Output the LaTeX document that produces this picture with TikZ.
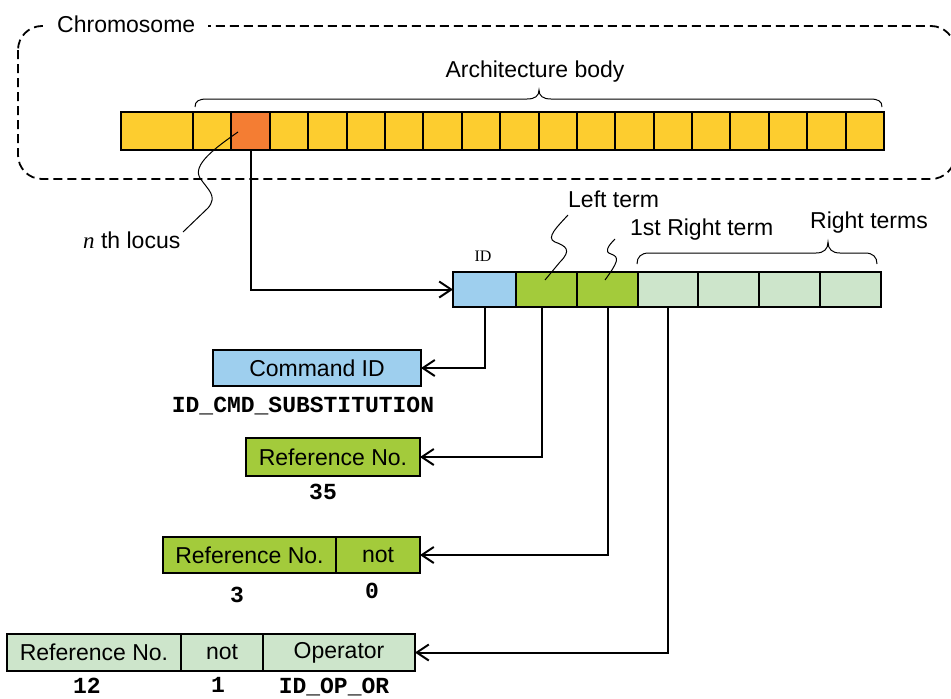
\documentclass[tikz,border=0pt]{standalone}
\usepackage{fontspec}
\setmainfont{Liberation Sans}
\newfontfamily\monob{Liberation Mono}
\newfontfamily\timesf{Liberation Serif}
\usetikzlibrary{arrows.meta}
\definecolor{cyel}{HTML}{FDCD2F}
\definecolor{corange}{HTML}{F47D33}
\definecolor{cblue}{HTML}{9ECFEE}
\definecolor{cgreen}{HTML}{A3CB3B}
\definecolor{clight}{HTML}{CDE5CB}
\begin{document}
\begin{tikzpicture}[x=1pt,y=-1pt,
  cell/.style={draw, line width=2pt, inner sep=0pt, outer sep=0pt, anchor=north west},
  box/.style={draw, line width=1.8pt, inner sep=0pt, outer sep=0pt, anchor=north west, font=\fontsize{23}{27}\selectfont},
  lbl/.style={inner sep=0pt, font=\fontsize{23}{27}\selectfont},
  code/.style={inner sep=0pt, anchor=base, font=\monob\bfseries\fontsize{23}{27}\selectfont},
  conn/.style={line width=2pt, -{Straight Barb[length=12pt,width=16pt]}},
  thinline/.style={line width=1pt},
]
\useasboundingbox (0,0) rectangle (951,699);
\clip (0,0) rectangle (951,699);

% chromosome frame
\draw[line width=1.8pt, dash pattern=on 9pt off 5pt, rounded corners=24pt] (18,26) rectangle (955,179);
\node[lbl, fill=white, inner xsep=13pt, inner ysep=3pt, anchor=base west] (chrom) at (44,32) {Chromosome};

% chromosome cells
\node[cell, fill=cyel, minimum width=72pt, minimum height=38pt] (c0) at (121,112) {};
\foreach \i in {1,...,18} {
  \pgfmathsetmacro\xx{193+(\i-1)*38.39}
  \node[cell, fill=cyel, minimum width=38.39pt, minimum height=38pt] (c\i) at (\xx,112) {};
}
\node[cell, fill=corange, minimum width=38.39pt, minimum height=38pt] (loc) at (231.39,112) {};

% architecture body brace
\draw[thinline] (195,107) .. controls (195,101) and (199,99) .. (207,99) -- (527,99)
  .. controls (535,99) and (539,96) .. (539,90) .. controls (539,96) and (543,99) .. (551,99)
  -- (870,99) .. controls (878,99) and (882,101) .. (882,107);
\node[lbl, anchor=base] (arch) at (535,77) {Architecture body};

% nth locus
\node[lbl, anchor=base west] (locus) at (83,248) {{\timesf\itshape n} th locus};
\draw[thinline] (238,132) .. controls (215,148) and (192,165) .. (200,178)
  .. controls (208,190) and (218,196) .. (208,208) -- (183,232);

% gene
\node[cell, fill=cblue, minimum width=63pt, minimum height=35pt] (id) at (453,272) {};
\node[cell, fill=cgreen, minimum width=60.8pt, minimum height=35pt] (g1) at (516,272) {};
\node[cell, fill=cgreen, minimum width=60.8pt, minimum height=35pt] (g2) at (576.8,272) {};
\node[cell, fill=clight, minimum width=60.8pt, minimum height=35pt] (r1) at (637.6,272) {};
\node[cell, fill=clight, minimum width=60.8pt, minimum height=35pt] (r2) at (698.4,272) {};
\node[cell, fill=clight, minimum width=60.8pt, minimum height=35pt] (r3) at (759.2,272) {};
\node[cell, fill=clight, minimum width=60.8pt, minimum height=35pt] (r4) at (820,272) {};
\node[inner sep=0pt, font=\timesf\fontsize{16}{18}\selectfont, anchor=base] (idl) at (483,261) {ID};

\draw[conn] (loc.south) |- (id.west);

% labels above gene
\node[lbl, anchor=base west] (lt) at (568,207) {Left term};
\draw[thinline] (568,215) .. controls (558,226) and (545,238) .. (555,242)
  .. controls (566,246) and (572,250) .. (560,262) -- (545,280);
\node[lbl, anchor=base west] (frt) at (630,235) {1st Right term};
\draw[thinline] (615,239) .. controls (608,246) and (604,252) .. (611,254)
  .. controls (620,257) and (618,262) .. (605,280);
\node[lbl, anchor=base west] (rts) at (810,228) {Right terms};
\draw[thinline] (637,264) .. controls (637,257) and (641,253) .. (649,253) -- (816,253)
  .. controls (824,253) and (828,249) .. (828,242) .. controls (828,249) and (832,253) .. (840,253)
  -- (865,253) .. controls (873,253) and (877,257) .. (877,264);

% command id
\node[box, fill=cblue, minimum width=208pt, minimum height=36pt] (cmd) at (213,350) {Command ID};
\node[code] (cmdv) at (303,412) {ID\_CMD\_SUBSTITUTION};

% reference 1
\node[box, fill=cgreen, minimum width=174pt, minimum height=38pt] (ref1) at (246,438) {Reference No.};
\node[code] (v35) at (323,499) {35};

% reference 2
\node[box, fill=cgreen, minimum width=173pt, minimum height=36pt] (ref2) at (163,537) {Reference No.};
\node[box, fill=cgreen, minimum width=84pt, minimum height=36pt] (not2) at (336,537) {not};
\node[code] (v3) at (237,602) {3};
\node[code] (v0) at (372,598) {0};

% reference 3
\node[box, fill=clight, minimum width=174pt, minimum height=37pt] (ref3) at (7,634) {Reference No.};
\node[box, fill=clight, minimum width=82pt, minimum height=37pt] (not3) at (181,634) {not};
\node[box, fill=clight, minimum width=152pt, minimum height=37pt] (op3) at (263,634) {Operator};
\node[code] (v12) at (87,693) {12};
\node[code] (v1) at (218,692) {1};
\node[code] (vop) at (334,693) {ID\_OP\_OR};

% connectors
\draw[conn] (id.south) |- (cmd.east);
\draw[conn] ([xshift=-4pt]g1.south) |- (ref1.east);
\draw[conn] ([xshift=1pt]g2.south) |- (not2.east);
\draw[conn] (r1.south) |- (op3.east);
\end{tikzpicture}
\end{document}
